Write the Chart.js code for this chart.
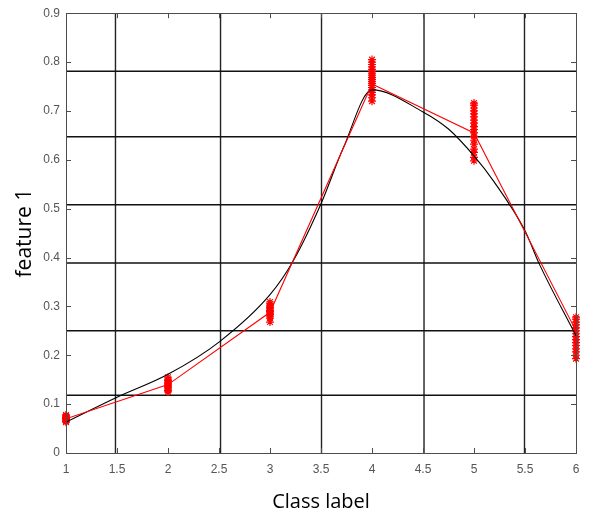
<!DOCTYPE html>
<html>
<head>
<meta charset="utf-8">
<script src="https://cdn.jsdelivr.net/npm/chart.js@4/dist/chart.umd.min.js"></script>
<style>
html,body{margin:0;padding:0;background:#fff;}
#wrap{width:594px;height:514px;}
</style>
</head>
<body>
<div id="wrap"><canvas id="c" width="594" height="514"></canvas></div>
<script>
// ---- data ----
const classes = [1, 2, 3, 4, 5, 6];
const redMeans = [0.070, 0.140, 0.288, 0.755, 0.655, 0.250];
const cluster1 = [0.063,0.065,0.067,0.068,0.069,0.070,0.071,0.072,0.073,0.074,0.076,0.078];
const cluster2 = [0.125,0.128,0.131,0.133,0.135,0.137,0.139,0.141,0.143,0.145,0.148,0.151,0.155];
const cluster3 = [0.268,0.276,0.280,0.283,0.286,0.288,0.290,0.292,0.295,0.298,0.301,0.305,0.309];
const cluster4 = [0.720,0.727,0.733,0.738,0.743,0.748,0.752,0.756,0.760,0.764,0.768,0.772,0.776,0.780,0.785,0.790,0.795,0.800,0.805];
const cluster5 = [0.598,0.605,0.615,0.622,0.632,0.640,0.648,0.655,0.662,0.668,0.675,0.681,0.688,0.694,0.700,0.706,0.712,0.716];
const cluster6 = [0.193,0.200,0.207,0.213,0.220,0.226,0.232,0.238,0.244,0.250,0.256,0.262,0.268,0.274,0.278];
const clusters = [cluster1, cluster2, cluster3, cluster4, cluster5, cluster6];
const blackX = [1, 1.5, 2, 2.5, 3, 3.23, 3.5, 3.72, 4, 4.5, 4.75, 5, 5.19, 5.5, 5.64, 6];
const blackY = [0.063, 0.114, 0.161, 0.227, 0.324, 0.394, 0.51, 0.625, 0.743, 0.698, 0.663, 0.608, 0.557, 0.455, 0.387, 0.24];
const hLines = [0.118, 0.250, 0.389, 0.508, 0.647, 0.781];
const vLines = [1.485, 2.515, 3.505, 4.51, 5.495];
const xMin = 1, xMax = 6, xStep = 0.5;
const yMin = 0, yMax = 0.9, yStep = 0.1;

// ---- build datasets ----
const datasets = [];
hLines.forEach(v => datasets.push({
  data: [{x: xMin, y: v}, {x: xMax, y: v}],
  borderColor: '#111', borderWidth: 1.5, pointRadius: 0, showLine: true, order: 5
}));
vLines.forEach(v => datasets.push({
  data: [{x: v, y: yMin}, {x: v, y: yMax}],
  borderColor: '#222', borderWidth: 1.4, pointRadius: 0, showLine: true, order: 5
}));
const clusterPts = [];
clusters.forEach((arr, i) => arr.forEach(v => clusterPts.push({x: classes[i], y: v})));
datasets.push({
  data: clusterPts, showLine: false, pointStyle: 'star', pointRadius: 4,
  borderColor: '#ff0000', backgroundColor: '#ff0000', pointBorderWidth: 1.2, clip: false, order: 3
});
datasets.push({
  data: blackX.map((x, i) => ({x, y: blackY[i]})),
  borderColor: '#000', borderWidth: 1.1, pointRadius: 0, showLine: true,
  cubicInterpolationMode: 'monotone', order: 2
});
datasets.push({
  data: classes.map((x, i) => ({x, y: redMeans[i]})),
  borderColor: '#ff0000', borderWidth: 1.1, pointRadius: 0, showLine: true, order: 1
});

const frame = {
  id: 'frame',
  afterDatasetsDraw(chart) {
    const {ctx, chartArea: a, scales: {x, y}} = chart;
    ctx.save();
    ctx.strokeStyle = '#4d4d4d';
    ctx.lineWidth = 1;
    ctx.strokeRect(Math.round(a.left) + 0.5, Math.round(a.top) + 0.5,
                   Math.round(a.right - a.left), Math.round(a.bottom - a.top));
    const L = 5;
    ctx.beginPath();
    x.ticks.forEach(t => {
      const px = Math.round(x.getPixelForValue(t.value)) + 0.5;
      ctx.moveTo(px, a.bottom); ctx.lineTo(px, a.bottom - L);
      ctx.moveTo(px, a.top); ctx.lineTo(px, a.top + L);
    });
    y.ticks.forEach(t => {
      const py = Math.round(y.getPixelForValue(t.value)) + 0.5;
      ctx.moveTo(a.left, py); ctx.lineTo(a.left + L, py);
      ctx.moveTo(a.right, py); ctx.lineTo(a.right - L, py);
    });
    ctx.stroke();
    ctx.restore();
  }
};

const fmt = v => String(Math.round(v * 10) / 10);

new Chart(document.getElementById('c'), {
  type: 'scatter',
  data: {datasets},
  options: {
    responsive: false,
    animation: false,
    devicePixelRatio: 1,
    layout: {padding: {top: 12, right: 18, left: 0, bottom: 0}},
    plugins: {legend: {display: false}, tooltip: {enabled: false}},
    scales: {
      x: {
        type: 'linear', min: xMin, max: xMax,
        grid: {display: false, drawTicks: false},
        border: {display: false},
        ticks: {stepSize: xStep, padding: 9, color: '#555', font: {family: 'Liberation Sans', size: 12}, callback: fmt, maxRotation: 0},
        title: {display: true, text: 'Class label', color: '#000', font: {family: 'Open Sans', size: 20}, padding: {top: 7, bottom: 0}},
        afterFit(s) { s.height = 61; }
      },
      y: {
        type: 'linear', min: yMin, max: yMax,
        grid: {display: false, drawTicks: false},
        border: {display: false},
        ticks: {stepSize: yStep, padding: 6, color: '#555', font: {family: 'Liberation Sans', size: 12}, callback: fmt},
        title: {display: true, text: 'feature 1', color: '#000', font: {family: 'Open Sans', size: 21}, padding: {top: 12, bottom: 0}},
        afterFit(s) { s.width = 66; }
      }
    }
  },
  plugins: [frame]
});
</script>
</body>
</html>
